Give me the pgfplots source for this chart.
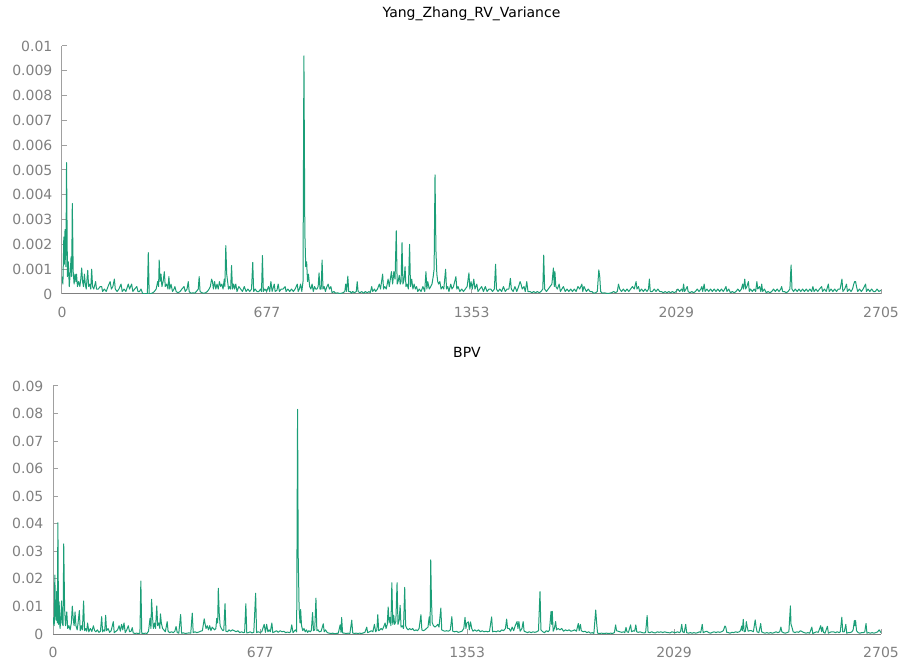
\documentclass[border=0pt]{standalone}
\usepackage{fontspec}
\setmainfont{DejaVu Sans}
\usepackage{pgfplots}
\pgfplotsset{compat=1.18}
\usepackage{pgfplotstable}
\definecolor{series}{HTML}{1B9E77}
\definecolor{tickgray}{HTML}{808080}
\definecolor{axgray}{HTML}{A0A0A0}

\pgfplotstableread[row sep=\\]{
x y\\
0 0.0007\\ 3 0.0004\\ 6 0.0023\\ 8 0.0012\\ 10 0.0026\\ 13 0.0011\\ 15 0.0053\\ 18 0.0007\\ 21 0.0013\\ 24 0.0003\\
27 0.0008\\ 30 0.0015\\ 32 0.0007\\ 34 0.00365\\ 37 0.0009\\ 40 0.0004\\ 43 0.0008\\ 46 0.0005\\ 48 0.0008\\ 51 0.0003\\
55 0.0005\\ 59 0.0003\\ 62 0.0006\\ 65 0.00105\\ 68 0.0005\\ 71 0.0003\\ 74 0.0008\\ 77 0.0004\\ 80 0.0002\\ 85 0.00095\\
88 0.0003\\ 92 0.0004\\ 95 0.0002\\ 98 0.001\\ 101 0.0003\\ 105 0.0002\\ 111 0.0005\\ 114 0.0002\\ 120 0.0002\\ 126 0.0003\\
131 0.0003\\ 134 0.0001\\ 140 0.0002\\ 146 0.0001\\ 152 0.0003\\ 159 0.0005\\ 163 0.0002\\ 168 0.0003\\ 173 0.0006\\ 176 0.0002\\
182 0.0001\\ 188 0.0002\\ 195 0.0004\\ 199 0.0001\\ 205 0.0002\\ 211 0.0001\\ 219 0.0004\\ 223 0.0002\\ 230 0.0004\\ 234 0.0001\\
240 0.0002\\ 247 0.0003\\ 251 0.0001\\ 256 0.0001\\ 261 0.0002\\ 266 0.00003\\ 272 0\\ 278 0.00002\\ 282 0\\ 285 0.00167\\
288 0\\ 294 0.00002\\ 300 0.00005\\ 305 0.0001\\ 311 0.0002\\ 316 0.0005\\ 319 0.0003\\ 321 0.00137\\ 324 0.0005\\ 327 0.0008\\
330 0.0003\\ 334 0.0005\\ 338 0.0009\\ 341 0.0003\\ 346 0.0004\\ 350 0.0002\\ 353 0.0007\\ 356 0.0002\\ 360 0.0004\\ 365 0.0001\\
370 0.0002\\ 373 0.0003\\ 377 0.0001\\ 383 0.00005\\ 390 0.0001\\ 396 0.0002\\ 403 0.0003\\ 407 0.0001\\ 413 0.0002\\ 417 0.0005\\
420 0.0001\\ 426 0.00003\\ 432 0.00005\\ 438 0.00003\\ 444 0.0001\\ 450 0.0002\\ 453 0.0007\\ 456 0.0001\\ 462 0.00005\\ 468 0.00003\\
474 0.00005\\ 480 0.0001\\ 486 0.0002\\ 490 0.0003\\ 494 0.0006\\ 497 0.0005\\ 500 0.0002\\ 504 0.0005\\ 508 0.0002\\ 512 0.0004\\
516 0.0002\\ 520 0.0005\\ 524 0.0003\\ 528 0.0004\\ 532 0.0002\\ 536 0.0006\\ 538 0.0003\\ 541 0.00195\\ 544 0.0008\\ 547 0.0005\\
550 0.0002\\ 553 0.0003\\ 557 0.0002\\ 560 0.00115\\ 563 0.0002\\ 567 0.0004\\ 570 0.0002\\ 574 0.0004\\ 578 0.0001\\ 584 0.0003\\
590 0.0002\\ 596 0.0001\\ 602 0.0003\\ 608 0.0001\\ 614 0.0002\\ 620 0.0001\\ 626 0.0002\\ 630 0.00127\\ 633 0.0001\\ 638 0.0002\\
644 0.0001\\ 650 0.0001\\ 656 0.0002\\ 659 0.0001\\ 662 0.00155\\ 665 0.0001\\ 670 0.0002\\ 676 0.0001\\ 682 0.0003\\ 686 0.0001\\
690 0.0005\\ 694 0.0001\\ 701 0.0004\\ 704 0.0001\\ 710 0.00015\\ 714 0.0004\\ 718 0.0001\\ 724 0.0002\\ 730 0.0002\\ 737 0.0003\\
740 0.0001\\ 746 0.0002\\ 752 0.0001\\ 758 0.0002\\ 764 0.0001\\ 770 0.0002\\ 777 0.0004\\ 780 0.0001\\ 784 0.0002\\ 788 0.0004\\
792 0.0001\\ 796 0.0005\\ 799 0.0096\\ 802 0.0025\\ 805 0.0011\\ 808 0.0013\\ 811 0.0005\\ 814 0.0008\\ 818 0.0003\\ 822 0.0002\\
826 0.0004\\ 830 0.0001\\ 834 0.0003\\ 838 0.0002\\ 842 0.0002\\ 846 0.0003\\ 849 0.00085\\ 852 0.0002\\ 856 0.0002\\ 859 0.00137\\
862 0.0002\\ 866 0.0003\\ 870 0.0001\\ 875 0.0003\\ 879 0.0004\\ 883 0.0002\\ 888 0.0003\\ 892 0.00005\\ 898 0.0001\\ 904 0.00003\\
910 0.00005\\ 916 0.00002\\ 922 0.00003\\ 928 0.00005\\ 934 0.0001\\ 937 0.0004\\ 940 0.0001\\ 944 0.00072\\ 947 0.0001\\ 952 0.0001\\
956 0.00003\\ 960 0.0001\\ 966 0.00005\\ 972 0.0001\\ 975 0.0005\\ 978 0.0001\\ 984 0.00005\\ 990 0.0001\\ 996 0.00003\\ 1002 0.0001\\
1008 0.00005\\ 1014 0.0001\\ 1018 0.00005\\ 1023 0.0003\\ 1026 0.0001\\ 1032 0.0002\\ 1036 0.0001\\ 1042 0.0002\\ 1048 0.0004\\ 1052 0.0002\\
1059 0.0008\\ 1062 0.0002\\ 1066 0.0003\\ 1071 0.0002\\ 1077 0.0006\\ 1081 0.0003\\ 1088 0.0009\\ 1092 0.0004\\ 1096 0.0009\\ 1100 0.0006\\
1104 0.00255\\ 1107 0.0004\\ 1110 0.0005\\ 1114 0.00075\\ 1117 0.0004\\ 1120 0.0005\\ 1123 0.00207\\ 1126 0.0004\\ 1130 0.0006\\ 1133 0.0011\\
1136 0.0003\\ 1140 0.0004\\ 1144 0.0002\\ 1148 0.0020\\ 1151 0.0003\\ 1155 0.0006\\ 1159 0.0002\\ 1163 0.0004\\ 1167 0.0002\\ 1171 0.0003\\
1175 0.0001\\ 1180 0.0002\\ 1186 0.0001\\ 1192 0.0003\\ 1198 0.0001\\ 1202 0.0009\\ 1205 0.0002\\ 1208 0.0005\\ 1213 0.0002\\ 1218 0.0003\\
1222 0.0004\\ 1226 0.0007\\ 1229 0.001\\ 1232 0.0048\\ 1235 0.00177\\ 1238 0.0008\\ 1241 0.0005\\ 1244 0.0004\\ 1248 0.0005\\ 1252 0.0002\\
1257 0.0003\\ 1261 0.0002\\ 1267 0.001\\ 1270 0.0002\\ 1274 0.0003\\ 1278 0.0001\\ 1284 0.0004\\ 1288 0.0002\\ 1293 0.0003\\ 1301 0.0007\\
1304 0.0002\\ 1308 0.0003\\ 1314 0.0001\\ 1320 0.0002\\ 1326 0.0001\\ 1332 0.0002\\ 1338 0.0003\\ 1344 0.00085\\ 1347 0.0002\\ 1351 0.0005\\
1355 0.0002\\ 1360 0.0006\\ 1364 0.0002\\ 1370 0.0004\\ 1374 0.0001\\ 1380 0.0002\\ 1386 0.0003\\ 1392 0.0001\\ 1398 0.0003\\ 1404 0.0001\\
1410 0.0002\\ 1416 0.0002\\ 1422 0.0001\\ 1428 0.0002\\ 1432 0.0012\\ 1435 0.0002\\ 1440 0.0001\\ 1446 0.0002\\ 1452 0.0001\\ 1458 0.0003\\
1464 0.0001\\ 1470 0.0002\\ 1476 0.0002\\ 1481 0.00063\\ 1484 0.0002\\ 1490 0.0001\\ 1496 0.0003\\ 1502 0.0001\\ 1508 0.0003\\ 1513 0.0005\\
1516 0.0004\\ 1520 0.0002\\ 1526 0.0003\\ 1530 0.0001\\ 1535 0.0005\\ 1539 0.0001\\ 1546 0.0001\\ 1552 0.00005\\ 1558 0.0001\\ 1564 0.00005\\
1570 0.0001\\ 1576 0.00005\\ 1582 0.0001\\ 1588 0.0002\\ 1591 0.00157\\ 1594 0.0002\\ 1600 0.0001\\ 1606 0.0002\\ 1612 0.0003\\ 1618 0.0004\\
1623 0.00105\\ 1626 0.0003\\ 1628 0.0009\\ 1631 0.0003\\ 1636 0.0002\\ 1642 0.0004\\ 1646 0.0001\\ 1651 0.0002\\ 1656 0.0003\\ 1662 0.0001\\
1668 0.0002\\ 1674 0.0001\\ 1680 0.0002\\ 1686 0.0001\\ 1692 0.0002\\ 1698 0.0001\\ 1704 0.0003\\ 1710 0.0002\\ 1717 0.0004\\ 1720 0.0001\\
1724 0.0003\\ 1728 0.0002\\ 1732 0.0001\\ 1738 0.0002\\ 1744 0.0001\\ 1750 0.0001\\ 1756 0.00003\\ 1762 0.00005\\ 1768 0.0001\\ 1773 0.00097\\
1776 0.0007\\ 1779 0.0001\\ 1785 0.00003\\ 1792 0.00005\\ 1800 0.00002\\ 1808 0.00003\\ 1815 0.00005\\ 1822 0.0001\\ 1828 0.00005\\ 1834 0.0001\\
1838 0.0004\\ 1842 0.0002\\ 1848 0.0001\\ 1854 0.0002\\ 1860 0.0001\\ 1866 0.0002\\ 1872 0.0001\\ 1878 0.0002\\ 1884 0.0003\\ 1890 0.0002\\
1896 0.0005\\ 1899 0.0002\\ 1904 0.0003\\ 1908 0.0001\\ 1914 0.0002\\ 1920 0.0001\\ 1926 0.0002\\ 1932 0.0001\\ 1937 0.0002\\ 1940 0.0006\\
1943 0.0001\\ 1950 0.0001\\ 1956 0.0002\\ 1962 0.0001\\ 1968 0.0002\\ 1974 0.0001\\ 1980 0.0001\\ 1986 0.00005\\ 1992 0.0001\\ 1998 0.00005\\
2004 0.0001\\ 2010 0.00005\\ 2016 0.0001\\ 2022 0.00005\\ 2028 0.0001\\ 2034 0.0002\\ 2040 0.0001\\ 2046 0.0002\\ 2050 0.0001\\ 2053 0.0004\\
2056 0.0001\\ 2061 0.0002\\ 2065 0.0003\\ 2068 0.0001\\ 2074 0.00005\\ 2080 0.0001\\ 2086 0.00005\\ 2092 0.0001\\ 2098 0.0002\\ 2104 0.0001\\
2110 0.0002\\ 2113 0.0003\\ 2116 0.0001\\ 2121 0.0004\\ 2124 0.0001\\ 2130 0.0002\\ 2136 0.0001\\ 2142 0.0002\\ 2148 0.0001\\ 2154 0.0002\\
2160 0.0001\\ 2166 0.0002\\ 2172 0.0001\\ 2178 0.0002\\ 2184 0.0001\\ 2189 0.0002\\ 2193 0.0003\\ 2196 0.0001\\ 2202 0.0002\\ 2208 0.00005\\
2214 0.0001\\ 2220 0.00005\\ 2226 0.0001\\ 2232 0.0002\\ 2238 0.0001\\ 2244 0.0002\\ 2248 0.0004\\ 2251 0.0002\\ 2255 0.0006\\ 2258 0.0002\\
2262 0.0003\\ 2267 0.0005\\ 2270 0.0001\\ 2274 0.0002\\ 2280 0.0001\\ 2286 0.0002\\ 2291 0.0001\\ 2295 0.0005\\ 2298 0.0002\\ 2304 0.0003\\
2308 0.0001\\ 2311 0.0004\\ 2314 0.0001\\ 2320 0.0002\\ 2326 0.00005\\ 2332 0.0001\\ 2338 0.00005\\ 2344 0.0001\\ 2350 0.0002\\ 2356 0.0001\\
2362 0.0002\\ 2368 0.0001\\ 2374 0.0002\\ 2377 0.0003\\ 2380 0.0001\\ 2386 0.0001\\ 2392 0.00005\\ 2398 0.0001\\ 2404 0.0002\\ 2408 0.00117\\
2411 0.0002\\ 2416 0.0001\\ 2422 0.0002\\ 2428 0.0001\\ 2434 0.0002\\ 2440 0.0001\\ 2446 0.0002\\ 2452 0.0001\\ 2458 0.0002\\ 2464 0.0001\\
2470 0.0002\\ 2476 0.0001\\ 2480 0.0003\\ 2484 0.0001\\ 2490 0.0002\\ 2496 0.0001\\ 2502 0.0002\\ 2509 0.0003\\ 2512 0.0001\\ 2518 0.0002\\
2524 0.0001\\ 2531 0.0004\\ 2534 0.0001\\ 2540 0.0002\\ 2546 0.0001\\ 2552 0.0002\\ 2558 0.0001\\ 2564 0.0002\\ 2570 0.0002\\ 2576 0.0006\\
2579 0.0001\\ 2585 0.0002\\ 2591 0.0004\\ 2594 0.0001\\ 2600 0.0002\\ 2606 0.0001\\ 2611 0.0002\\ 2615 0.0004\\ 2618 0.0005\\ 2621 0.0005\\
2624 0.0003\\ 2628 0.0001\\ 2634 0.0002\\ 2640 0.0001\\ 2646 0.0002\\ 2654 0.0004\\ 2657 0.0001\\ 2662 0.0002\\ 2668 0.0001\\ 2674 0.0002\\
2680 0.0001\\ 2686 0.0001\\ 2692 0.0002\\ 2698 0.0001\\ 2705 0.00015\\
}\topdata

\pgfplotstableread[row sep=\\]{
x y\\
0 0.006\\ 2 0.004\\ 4 0.003\\ 6 0.0214\\ 8 0.0076\\ 10 0.005\\ 12 0.0154\\ 14 0.004\\ 16 0.0404\\ 18 0.0035\\
20 0.0117\\ 23 0.002\\ 26 0.006\\ 28 0.012\\ 30 0.004\\ 33 0.003\\ 35 0.0327\\ 38 0.009\\ 41 0.003\\ 45 0.008\\
48 0.002\\ 52 0.003\\ 56 0.0015\\ 60 0.004\\ 63 0.0101\\ 66 0.0057\\ 69 0.003\\ 72 0.008\\ 75 0.003\\ 79 0.0015\\
82 0.004\\ 86 0.0085\\ 89 0.0012\\ 93 0.003\\ 96 0.0015\\ 100 0.012\\ 103 0.0012\\ 107 0.002\\ 110 0.001\\ 113 0.004\\
117 0.0008\\ 122 0.002\\ 127 0.0009\\ 132 0.003\\ 136 0.0012\\ 140 0.0008\\ 145 0.0015\\ 150 0.0006\\ 155 0.001\\ 159 0.0063\\
162 0.0008\\ 166 0.0015\\ 169 0.001\\ 172 0.0068\\ 175 0.0012\\ 180 0.002\\ 185 0.0006\\ 190 0.0012\\ 197 0.0045\\ 200 0.0005\\
206 0.001\\ 211 0.0015\\ 216 0.003\\ 220 0.001\\ 224 0.0035\\ 228 0.0015\\ 232 0.004\\ 236 0.0005\\ 241 0.0015\\ 246 0.003\\
250 0.0008\\ 255 0.001\\ 259 0.0023\\ 262 0.0004\\ 267 0.0002\\ 273 0.0003\\ 279 0.0002\\ 284 0.0003\\ 287 0.0192\\ 290 0.0002\\
296 0.0002\\ 302 0.0003\\ 307 0.0002\\ 312 0.001\\ 317 0.0057\\ 320 0.002\\ 322 0.0126\\ 325 0.0063\\ 328 0.002\\ 332 0.004\\
335 0.002\\ 339 0.0102\\ 342 0.003\\ 346 0.004\\ 349 0.002\\ 351 0.0073\\ 354 0.004\\ 358 0.002\\ 362 0.0015\\ 367 0.0008\\
373 0.0045\\ 376 0.001\\ 381 0.0005\\ 387 0.0008\\ 393 0.0005\\ 398 0.001\\ 402 0.0027\\ 406 0.0005\\ 411 0.0003\\ 417 0.0071\\
420 0.0003\\ 426 0.0004\\ 432 0.0002\\ 438 0.0003\\ 444 0.0004\\ 450 0.0003\\ 455 0.0076\\ 458 0.0005\\ 464 0.0008\\ 470 0.0005\\
476 0.0007\\ 482 0.001\\ 488 0.0012\\ 494 0.0055\\ 497 0.0036\\ 500 0.002\\ 504 0.003\\ 508 0.0015\\ 512 0.003\\ 516 0.0012\\
520 0.0025\\ 524 0.002\\ 528 0.0015\\ 532 0.002\\ 535 0.0057\\ 538 0.004\\ 540 0.0166\\ 543 0.0076\\ 546 0.003\\ 550 0.002\\
555 0.0012\\ 558 0.0015\\ 562 0.011\\ 565 0.001\\ 570 0.0008\\ 575 0.0015\\ 580 0.001\\ 586 0.0015\\ 592 0.0012\\ 598 0.0008\\
604 0.0012\\ 610 0.0005\\ 616 0.0008\\ 622 0.0005\\ 626 0.0006\\ 630 0.011\\ 633 0.0004\\ 638 0.0005\\ 644 0.0008\\ 650 0.0004\\
656 0.0006\\ 662 0.0148\\ 665 0.0005\\ 670 0.0008\\ 676 0.0006\\ 682 0.0008\\ 690 0.0035\\ 694 0.0006\\ 698 0.0035\\ 702 0.0008\\
706 0.0015\\ 710 0.0008\\ 715 0.004\\ 718 0.0005\\ 724 0.0008\\ 730 0.0012\\ 736 0.0006\\ 742 0.0012\\ 748 0.0008\\ 754 0.001\\
760 0.0005\\ 766 0.0007\\ 772 0.0005\\ 776 0.0008\\ 780 0.0033\\ 784 0.0005\\ 788 0.001\\ 792 0.0015\\ 796 0.0008\\ 799 0.0815\\
801 0.0287\\ 804 0.0093\\ 807 0.004\\ 809 0.0089\\ 812 0.003\\ 816 0.0012\\ 820 0.002\\ 824 0.0008\\ 828 0.0015\\ 832 0.0006\\
836 0.0012\\ 840 0.0008\\ 844 0.0013\\ 848 0.0078\\ 851 0.0012\\ 855 0.0015\\ 859 0.013\\ 862 0.0012\\ 866 0.0015\\ 870 0.0008\\
876 0.001\\ 883 0.0037\\ 886 0.0008\\ 890 0.0015\\ 896 0.0005\\ 902 0.0003\\ 908 0.0002\\ 914 0.0003\\ 920 0.0001\\ 926 0.0002\\
932 0.0003\\ 938 0.0033\\ 941 0.0006\\ 943 0.006\\ 946 0.0004\\ 952 0.0003\\ 958 0.0002\\ 964 0.0003\\ 970 0.0002\\ 976 0.005\\
979 0.0004\\ 984 0.0002\\ 990 0.0003\\ 996 0.0002\\ 1002 0.0003\\ 1008 0.0002\\ 1014 0.0004\\ 1019 0.0006\\ 1025 0.0025\\ 1028 0.0005\\
1034 0.0008\\ 1040 0.0012\\ 1045 0.0008\\ 1050 0.0035\\ 1054 0.0008\\ 1058 0.0015\\ 1061 0.007\\ 1064 0.0012\\ 1068 0.0015\\ 1072 0.002\\
1076 0.0015\\ 1080 0.0025\\ 1085 0.004\\ 1088 0.002\\ 1092 0.0035\\ 1095 0.0098\\ 1098 0.004\\ 1101 0.006\\ 1104 0.003\\ 1107 0.0186\\
1110 0.0035\\ 1113 0.0068\\ 1116 0.0035\\ 1120 0.0045\\ 1124 0.0186\\ 1127 0.0035\\ 1131 0.005\\ 1134 0.0104\\ 1137 0.0025\\ 1141 0.003\\
1145 0.002\\ 1149 0.0169\\ 1152 0.003\\ 1156 0.002\\ 1160 0.0015\\ 1165 0.002\\ 1170 0.0015\\ 1175 0.002\\ 1180 0.0012\\ 1186 0.0015\\
1191 0.0012\\ 1196 0.002\\ 1202 0.007\\ 1205 0.0015\\ 1210 0.0012\\ 1215 0.0015\\ 1220 0.002\\ 1225 0.0025\\ 1229 0.0062\\ 1232 0.003\\
1234 0.0269\\ 1236 0.014\\ 1239 0.004\\ 1243 0.003\\ 1248 0.0025\\ 1253 0.003\\ 1257 0.0035\\ 1261 0.0025\\ 1267 0.0094\\ 1270 0.0015\\
1275 0.0012\\ 1280 0.001\\ 1286 0.0012\\ 1292 0.001\\ 1298 0.0015\\ 1303 0.0063\\ 1306 0.001\\ 1312 0.0008\\ 1318 0.001\\ 1324 0.0006\\
1330 0.0008\\ 1336 0.001\\ 1342 0.002\\ 1346 0.006\\ 1349 0.002\\ 1352 0.004\\ 1357 0.0044\\ 1360 0.0015\\ 1364 0.0044\\ 1368 0.002\\
1372 0.001\\ 1378 0.0015\\ 1384 0.001\\ 1390 0.0015\\ 1396 0.0008\\ 1402 0.0012\\ 1408 0.0008\\ 1414 0.001\\ 1420 0.0008\\ 1426 0.001\\
1433 0.0062\\ 1436 0.0008\\ 1442 0.001\\ 1448 0.0008\\ 1454 0.0012\\ 1460 0.0008\\ 1466 0.0015\\ 1472 0.0012\\ 1478 0.002\\ 1482 0.0054\\
1485 0.002\\ 1490 0.002\\ 1495 0.001\\ 1500 0.0025\\ 1505 0.0012\\ 1510 0.003\\ 1516 0.0045\\ 1519 0.002\\ 1522 0.0045\\ 1526 0.001\\
1532 0.002\\ 1536 0.0045\\ 1539 0.001\\ 1544 0.0008\\ 1550 0.0005\\ 1556 0.0008\\ 1562 0.0005\\ 1568 0.0008\\ 1574 0.0006\\ 1580 0.0008\\
1586 0.0012\\ 1591 0.0154\\ 1594 0.0015\\ 1600 0.0008\\ 1606 0.0005\\ 1612 0.0012\\ 1618 0.0008\\ 1622 0.0015\\ 1627 0.0082\\ 1629 0.0035\\
1631 0.0082\\ 1634 0.001\\ 1638 0.002\\ 1642 0.0045\\ 1645 0.0015\\ 1650 0.002\\ 1656 0.0015\\ 1662 0.002\\ 1668 0.001\\ 1674 0.0015\\
1680 0.0012\\ 1686 0.0015\\ 1692 0.001\\ 1698 0.0012\\ 1704 0.0015\\ 1710 0.001\\ 1716 0.0038\\ 1719 0.0012\\ 1723 0.0035\\ 1726 0.0012\\
1732 0.0008\\ 1738 0.001\\ 1744 0.0005\\ 1750 0.0008\\ 1756 0.0003\\ 1762 0.0005\\ 1767 0.0002\\ 1773 0.0087\\ 1776 0.004\\ 1779 0.0003\\
1785 0.0002\\ 1792 0.0003\\ 1800 0.0002\\ 1808 0.0003\\ 1815 0.0002\\ 1822 0.0003\\ 1828 0.0002\\ 1834 0.0005\\ 1838 0.0033\\ 1841 0.0012\\
1846 0.001\\ 1852 0.0008\\ 1858 0.0006\\ 1864 0.0008\\ 1868 0.0005\\ 1872 0.0024\\ 1875 0.0008\\ 1880 0.0006\\ 1887 0.0033\\ 1890 0.0008\\
1896 0.0012\\ 1900 0.001\\ 1904 0.0033\\ 1907 0.0008\\ 1912 0.0006\\ 1918 0.0008\\ 1924 0.0005\\ 1930 0.0004\\ 1936 0.0005\\ 1941 0.0067\\
1944 0.0006\\ 1950 0.0005\\ 1956 0.0008\\ 1962 0.0005\\ 1968 0.0004\\ 1974 0.0008\\ 1980 0.0006\\ 1986 0.0008\\ 1992 0.0005\\ 1998 0.0008\\
2004 0.0006\\ 2010 0.0005\\ 2016 0.0004\\ 2022 0.0008\\ 2028 0.0006\\ 2034 0.0005\\ 2040 0.0008\\ 2046 0.0005\\ 2050 0.0008\\ 2054 0.0035\\
2057 0.0008\\ 2062 0.0005\\ 2067 0.0035\\ 2070 0.0005\\ 2076 0.0003\\ 2082 0.0005\\ 2088 0.0003\\ 2094 0.0005\\ 2100 0.0003\\ 2106 0.0005\\
2112 0.0008\\ 2116 0.0005\\ 2121 0.0035\\ 2124 0.0005\\ 2130 0.0008\\ 2136 0.001\\ 2142 0.0005\\ 2148 0.0003\\ 2154 0.0006\\ 2160 0.0008\\
2166 0.0005\\ 2172 0.0008\\ 2178 0.0006\\ 2184 0.0008\\ 2190 0.0012\\ 2195 0.0029\\ 2198 0.0025\\ 2201 0.0006\\ 2206 0.0005\\ 2212 0.0003\\
2218 0.0006\\ 2224 0.0005\\ 2230 0.0008\\ 2236 0.0006\\ 2242 0.0008\\ 2246 0.0012\\ 2250 0.0029\\ 2252 0.0012\\ 2255 0.0053\\ 2258 0.0008\\
2262 0.001\\ 2265 0.0045\\ 2268 0.0025\\ 2271 0.001\\ 2276 0.0012\\ 2282 0.0012\\ 2288 0.0008\\ 2294 0.0051\\ 2297 0.0025\\ 2300 0.0008\\
2306 0.0005\\ 2312 0.0038\\ 2315 0.0008\\ 2320 0.0005\\ 2326 0.0003\\ 2332 0.0005\\ 2338 0.0003\\ 2344 0.0005\\ 2350 0.0003\\ 2356 0.0005\\
2362 0.0008\\ 2368 0.0005\\ 2374 0.0008\\ 2378 0.0025\\ 2381 0.0008\\ 2386 0.0005\\ 2392 0.0003\\ 2398 0.0005\\ 2404 0.0008\\ 2409 0.0102\\
2411 0.0035\\ 2414 0.0025\\ 2418 0.0008\\ 2424 0.0005\\ 2430 0.0008\\ 2436 0.0006\\ 2442 0.0012\\ 2448 0.0008\\ 2454 0.0005\\ 2460 0.0003\\
2466 0.0005\\ 2472 0.0003\\ 2479 0.0025\\ 2482 0.0002\\ 2488 0.0005\\ 2494 0.0008\\ 2500 0.0006\\ 2508 0.003\\ 2511 0.0008\\ 2514 0.0025\\
2517 0.0006\\ 2522 0.0003\\ 2530 0.0028\\ 2533 0.0003\\ 2538 0.0006\\ 2544 0.0008\\ 2550 0.0008\\ 2556 0.0005\\ 2562 0.0008\\ 2568 0.0005\\
2572 0.0008\\ 2577 0.0061\\ 2580 0.0008\\ 2585 0.0008\\ 2590 0.0035\\ 2593 0.0003\\ 2598 0.0005\\ 2604 0.0005\\ 2610 0.0008\\ 2614 0.0015\\
2618 0.0049\\ 2620 0.003\\ 2622 0.0049\\ 2625 0.0012\\ 2630 0.0005\\ 2636 0.0003\\ 2642 0.0005\\ 2648 0.0005\\ 2652 0.0008\\ 2656 0.0038\\
2659 0.0003\\ 2664 0.0005\\ 2670 0.0003\\ 2676 0.0005\\ 2682 0.0003\\ 2688 0.0005\\ 2694 0.0008\\ 2699 0.0015\\ 2705 0.0005\\
}\botdata

\pgfplotsset{
  panel/.style={
    scale only axis,
    height=186pt,
    anchor=south west,
    xmin=0, xmax=2705, ymin=0,
    enlargelimits=false,
    axis lines*=left,
    axis line style={axgray, line width=0.75pt},
    x axis line style={color=gray},
    tick style={axgray, line width=0.75pt},
    tick align=inside,
    major tick length=3.75pt,
    xtick={0,677,1353,2029,2705},
    xticklabels={0,677,1353,2029,2705},
    scaled y ticks=false,
    /pgf/number format/assume math mode=true,
    tick label style={text=tickgray, font=\fontsize{10.5}{12}\selectfont},
    yticklabel style={anchor=east, inner sep=0pt, xshift=-7pt},
    xticklabel style={anchor=base, inner sep=0pt, yshift=-17.6pt},
    title style={anchor=base, at={(0.5,1)}, yshift=15.4pt, inner sep=0pt, text=black, font=\fontsize{10.5}{12}\selectfont},
  },
  series line/.style={color=series, line width=0.75pt, mark=none, line join=round},
}

\begin{document}
\begin{tikzpicture}
\useasboundingbox (0,0) rectangle (676.5pt,495pt);
\begin{axis}[panel,
  at={(46.5pt,274.5pt)}, width=614.25pt,
  ymax=0.01,
  ytick={0,0.001,0.002,0.003,0.004,0.005,0.006,0.007,0.008,0.009,0.01},
  yticklabels={0,0.001,0.002,0.003,0.004,0.005,0.006,0.007,0.008,0.009,0.01},
  title={Yang\_Zhang\_RV\_Variance}]
\addplot[series line] table[x=x, y=y] {\topdata};
\end{axis}
\begin{axis}[panel,
  at={(39.75pt,19.5pt)}, width=621pt,
  ymax=0.09,
  ytick={0,0.01,0.02,0.03,0.04,0.05,0.06,0.07,0.08,0.09},
  yticklabels={0,0.01,0.02,0.03,0.04,0.05,0.06,0.07,0.08,0.09},
  title={BPV}]
\addplot[series line] table[x=x, y=y] {\botdata};
\end{axis}
\end{tikzpicture}
\end{document}
